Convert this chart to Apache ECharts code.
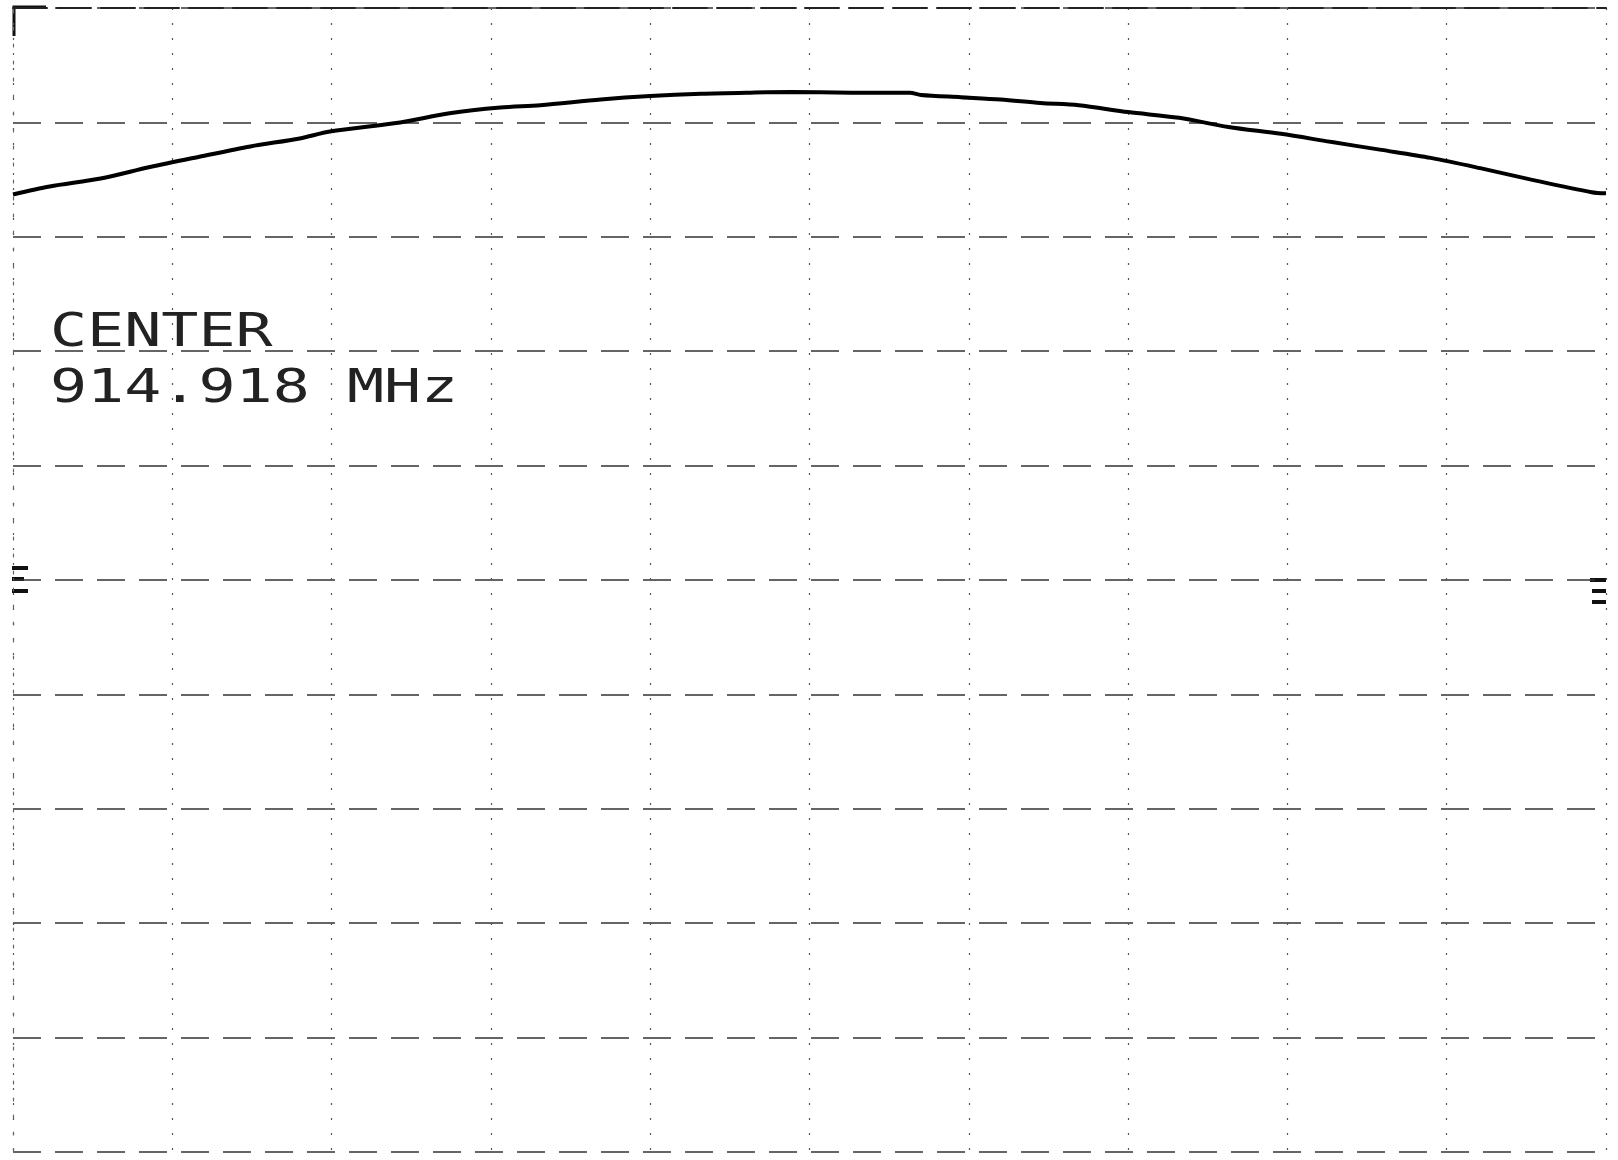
<!DOCTYPE html>
<html>
<head>
<meta charset="utf-8">
<script src="https://cdn.jsdelivr.net/npm/echarts@6/dist/echarts.min.js"></script>
<style>
  html, body { margin: 0; padding: 0; background: #fff; }
  #spectrum { width: 1618px; height: 1160px; }
</style>
</head>
<body>
<div id="spectrum"></div>
<script>
// horizontal position in graticule divisions (0..10)
const xDiv = [0, 0.23, 0.55, 0.86, 1.17, 1.49, 1.8, 1.99, 2.43, 2.74, 3.06, 3.31, 3.69, 4.0, 4.32, 4.63,
  4.88, 5.26, 5.63, 5.7, 5.95, 6.2, 6.45, 6.69, 7.0, 7.32, 7.63, 7.96, 8.27, 8.59, 8.9, 9.21, 9.53, 9.91, 10]
// level in dB below the top line (10 dB / div)
const levelDb = [-16.3, -15.6, -14.9, -13.9, -13.0, -12.1, -11.4, -10.8, -10.0, -9.2, -8.7, -8.5, -8.0, -7.7, -7.5, -7.4,
  -7.35, -7.4, -7.4, -7.6, -7.8, -8.0, -8.3, -8.5, -9.1, -9.6, -10.4, -11.0, -11.7, -12.4, -13.1, -14.0, -15.0, -16.1, -16.2]
const centerLabel = 'CENTER'
const centerFreq = '914.918 MHz'

const chart = echarts.init(document.getElementById('spectrum'))

const option = {
  backgroundColor: '#fff',
  animation: false,
  grid: { left: 13, right: 12, top: 8, bottom: 8 },
  xAxis: {
    type: 'value', min: 0, max: 10, interval: 1,
    axisLabel: { show: false },
    axisTick: { show: false },
    axisLine: { show: true, lineStyle: { color: '#222', width: 2, type: [34, 10] } },
    splitLine: { show: true, lineStyle: { color: '#555', width: 1.2, type: [2, 13] } }
  },
  yAxis: {
    type: 'value', min: -100, max: 0, interval: 10,
    axisLabel: { show: false },
    axisTick: { show: false },
    axisLine: { show: true, lineStyle: { color: '#666', width: 1.2, type: [3, 14] } },
    splitLine: { show: true, lineStyle: { color: '#333', width: 1.6, type: [28, 14] } }
  },
  series: [{
    type: 'line',
    data: xDiv.map((x, i) => [x, levelDb[i]]),
    smooth: 0.3,
    symbol: 'none',
    lineStyle: { color: '#000', width: 4 }
  }],
  graphic: [
    {
      type: 'text', x: 50, y: 334, scaleX: 1.34,
      style: { text: centerLabel, font: '46px "DejaVu Sans Mono"', fill: '#222', verticalAlign: 'middle' }
    },
    {
      type: 'text', x: 50, y: 390, scaleX: 1.34,
      style: { text: centerFreq, font: '46px "DejaVu Sans Mono"', fill: '#222', verticalAlign: 'middle' }
    },
    // corner bracket at top left
    { type: 'polyline', shape: { points: [[14, 36], [14, 7], [46, 7]] }, style: { stroke: '#111', lineWidth: 3, fill: null } },
    // reference markers on both edges
    { type: 'rect', shape: { x: 12, y: 566, width: 16, height: 4 }, style: { fill: '#111' } },
    { type: 'rect', shape: { x: 12, y: 577, width: 12, height: 4 }, style: { fill: '#111' } },
    { type: 'rect', shape: { x: 12, y: 589, width: 16, height: 4 }, style: { fill: '#111' } },
    { type: 'rect', shape: { x: 1590, y: 578, width: 16, height: 4 }, style: { fill: '#111' } },
    { type: 'rect', shape: { x: 1592, y: 589, width: 14, height: 4 }, style: { fill: '#111' } },
    { type: 'rect', shape: { x: 1592, y: 600, width: 14, height: 4 }, style: { fill: '#111' } }
  ]
}

chart.setOption(option)
</script>
</body>
</html>
